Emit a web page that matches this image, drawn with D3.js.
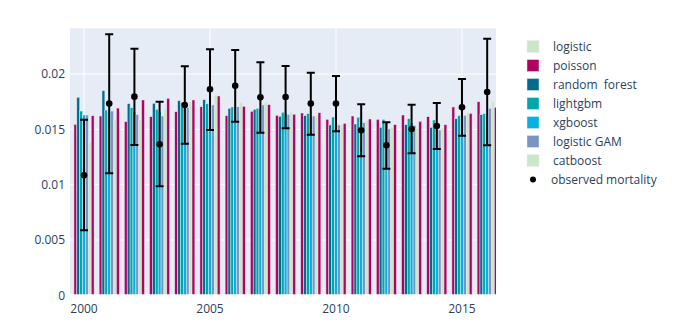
<!DOCTYPE html>
<html>
<head>
<meta charset="utf-8">
<script src="https://cdn.jsdelivr.net/npm/d3@7"></script>
<style>
  body { margin: 0; background: #fff; }
  text { font-family: "Open Sans", verdana, arial, sans-serif; fill: #2a3f5f; }
</style>
</head>
<body>
<div id="chart"></div>
<script>
const years = [2000, 2001, 2002, 2003, 2004, 2005, 2006, 2007, 2008, 2009, 2010, 2011, 2012, 2013, 2014, 2015, 2016];

// bar values per model, in the order the bars sit inside each year group
const logistic     = [0.01546, 0.01621, 0.0157, 0.01615, 0.0166, 0.01705, 0.01624, 0.01664, 0.01627, 0.01648, 0.01591, 0.01621, 0.01591, 0.0163, 0.01615, 0.01703, 0.0175];
const randomForest = [0.0179, 0.0185, 0.01733, 0.01736, 0.0176, 0.01769, 0.01691, 0.01682, 0.01618, 0.01624, 0.0154, 0.01549, 0.01519, 0.01543, 0.01519, 0.01597, 0.01633];
const lightgbm     = [0.01666, 0.01675, 0.01696, 0.01682, 0.01745, 0.01733, 0.01703, 0.01691, 0.01655, 0.01642, 0.01612, 0.0161, 0.01591, 0.01597, 0.01585, 0.01624, 0.01642];
const xgboost      = [0.0163, 0.0166, 0.0166, 0.0166, 0.0172, 0.0171, 0.0169, 0.0168, 0.0164, 0.0162, 0.0156, 0.0156, 0.0156, 0.0156, 0.0155, 0.0161, 0.0163];
const logisticGAM  = [0.0163, 0.01666, 0.01633, 0.01621, 0.01696, 0.01721, 0.01705, 0.01721, 0.01637, 0.01621, 0.0154, 0.01561, 0.01504, 0.01537, 0.01495, 0.01627, 0.01691];
const catboost     = [0.01383, 0.01591, 0.01585, 0.01685, 0.0175, 0.01811, 0.01745, 0.01745, 0.01655, 0.0162, 0.01543, 0.0158, 0.0152, 0.0151, 0.0151, 0.0165, 0.0175];
const poisson      = [0.01624, 0.01693, 0.01766, 0.01781, 0.01766, 0.01802, 0.01709, 0.01724, 0.01637, 0.01651, 0.01555, 0.01594, 0.01543, 0.01573, 0.01543, 0.01645, 0.017];

// observed mortality with its interval
const observed = [0.01085, 0.01733, 0.01796, 0.01365, 0.01721, 0.01863, 0.01895, 0.0179, 0.01793, 0.01733, 0.01733, 0.01492, 0.01356, 0.01504, 0.01531, 0.017, 0.01838];
const upper    = [0.01588, 0.0236, 0.0223, 0.0175, 0.0207, 0.02224, 0.02218, 0.02107, 0.02073, 0.02013, 0.01983, 0.01727, 0.01564, 0.01723, 0.01739, 0.01956, 0.0232];
const lower    = [0.00588, 0.01103, 0.01359, 0.00986, 0.01371, 0.01495, 0.0157, 0.0147, 0.0151, 0.01452, 0.01483, 0.01257, 0.01145, 0.01284, 0.01323, 0.01443, 0.01356];

const yTicks = [0, 0.005, 0.01, 0.015, 0.02];
const xTicks = [2000, 2005, 2010, 2015];

const legendNames = ["logistic", "poisson", "random  forest", "lightgbm", "xgboost", "logistic GAM", "catboost"];

const pink = "#b0025f", green = "#c9e8c3";
const legendColors = [green, pink, "#006b8c", "#00a6a9", "#00b3e3", "#7c93c3", green];

const series = [
  {name: "logistic", values: logistic, color: pink},
  {name: "random forest", values: randomForest, color: "#006b8c"},
  {name: "lightgbm", values: lightgbm, color: "#00a6a9"},
  {name: "xgboost", values: xgboost, color: "#00b3e3"},
  {name: "logistic GAM", values: logisticGAM, color: "#7c93c3"},
  {name: "catboost", values: catboost, color: green},
  {name: "poisson", values: poisson, color: pink}
];

const width = 694, height = 336;
const plot = {left: 70, right: 496, top: 28.3, bottom: 295.3};

const svg = d3.select("#chart").append("svg")
  .attr("width", width)
  .attr("height", height);

const x = d3.scaleLinear().domain([1999.444, 2016.35]).range([plot.left, plot.right]);
const y = d3.scaleLinear().domain([0, 0.02414]).range([plot.bottom, plot.top]);

// background
svg.append("rect")
  .attr("x", plot.left).attr("y", plot.top)
  .attr("width", plot.right - plot.left)
  .attr("height", plot.bottom - plot.top)
  .attr("fill", "#E5ECF6");

svg.append("clipPath").attr("id", "clip")
  .append("rect")
  .attr("x", plot.left).attr("y", plot.top - 10)
  .attr("width", plot.right - plot.left)
  .attr("height", plot.bottom - plot.top + 12);

// grid
const grid = svg.append("g").attr("stroke", "#fff");
grid.selectAll("line.h")
  .data(yTicks.filter(d => d > 0))
  .join("line")
  .attr("x1", plot.left).attr("x2", plot.right)
  .attr("y1", d => y(d)).attr("y2", d => y(d))
  .attr("stroke-width", 1);
grid.selectAll("line.v")
  .data(xTicks)
  .join("line")
  .attr("x1", d => x(d)).attr("x2", d => x(d))
  .attr("y1", plot.top).attr("y2", plot.bottom)
  .attr("stroke-width", 1);

// bars
const groupWidth = 0.8;
const slot = groupWidth / series.length;
const barW = x(slot) - x(0);

const bars = svg.append("g").attr("clip-path", "url(#clip)");
series.forEach((s, i) => {
  const off = (i - (series.length - 1) / 2) * slot;
  bars.append("g")
    .selectAll("rect")
    .data(years.map((yr, j) => ({yr, v: s.values[j]})))
    .join("rect")
    .attr("x", d => x(d.yr + off) - barW / 2)
    .attr("width", barW)
    .attr("y", d => y(d.v))
    .attr("height", d => y(0) - y(d.v))
    .attr("fill", s.color)
    .attr("stroke", "#E5ECF6")
    .attr("stroke-width", 0.5);
});

// zero line
svg.append("line")
  .attr("x1", plot.left).attr("x2", plot.right)
  .attr("y1", y(0)).attr("y2", y(0))
  .attr("stroke", "#fff").attr("stroke-width", 2);

// observed mortality with error bars
const obs = svg.append("g").attr("clip-path", "url(#clip)");
const obsData = years.map((yr, j) => ({yr, v: observed[j], hi: upper[j], lo: lower[j]}));
obs.selectAll("line.err")
  .data(obsData)
  .join("line")
  .attr("x1", d => x(d.yr)).attr("x2", d => x(d.yr))
  .attr("y1", d => y(d.hi)).attr("y2", d => y(d.lo))
  .attr("stroke", "#000").attr("stroke-width", 2);
["hi", "lo"].forEach(k => {
  obs.selectAll("line.cap-" + k)
    .data(obsData)
    .join("line")
    .attr("x1", d => x(d.yr) - 4).attr("x2", d => x(d.yr) + 4)
    .attr("y1", d => y(d[k])).attr("y2", d => y(d[k]))
    .attr("stroke", "#000").attr("stroke-width", 2);
});
obs.selectAll("circle")
  .data(obsData)
  .join("circle")
  .attr("cx", d => x(d.yr)).attr("cy", d => y(d.v))
  .attr("r", 3.3)
  .attr("fill", "#000");

// axes labels
svg.append("g")
  .selectAll("text")
  .data(yTicks)
  .join("text")
  .attr("x", plot.left - 5)
  .attr("y", d => y(d))
  .attr("dy", "0.35em")
  .attr("text-anchor", "end")
  .attr("font-size", 12)
  .text(d => d3.format("~g")(d));

svg.append("g")
  .selectAll("text")
  .data(xTicks)
  .join("text")
  .attr("x", d => x(d))
  .attr("y", 309)
  .attr("dy", "0.35em")
  .attr("text-anchor", "middle")
  .attr("font-size", 12)
  .text(d => d);

// legend
const legend = svg.append("g").attr("transform", "translate(527,46.5)");
legendNames.forEach((name, i) => {
  const row = legend.append("g").attr("transform", `translate(0,${i * 19})`);
  row.append("rect")
    .attr("x", 0).attr("y", -6)
    .attr("width", 12).attr("height", 12)
    .attr("fill", legendColors[i])
    .attr("stroke", "#E5ECF6").attr("stroke-width", 0.5);
  row.append("text")
    .attr("x", 26).attr("y", 0).attr("dy", "0.35em")
    .attr("font-size", 12)
    .style("white-space", "pre")
    .text(name);
});
const obsRow = legend.append("g").attr("transform", `translate(0,${legendNames.length * 19})`);
obsRow.append("circle").attr("cx", 6).attr("cy", 0).attr("r", 3).attr("fill", "#000");
obsRow.append("text")
  .attr("x", 24).attr("y", 0).attr("dy", "0.35em")
  .attr("font-size", 12)
  .text("observed mortality");
</script>
</body>
</html>
